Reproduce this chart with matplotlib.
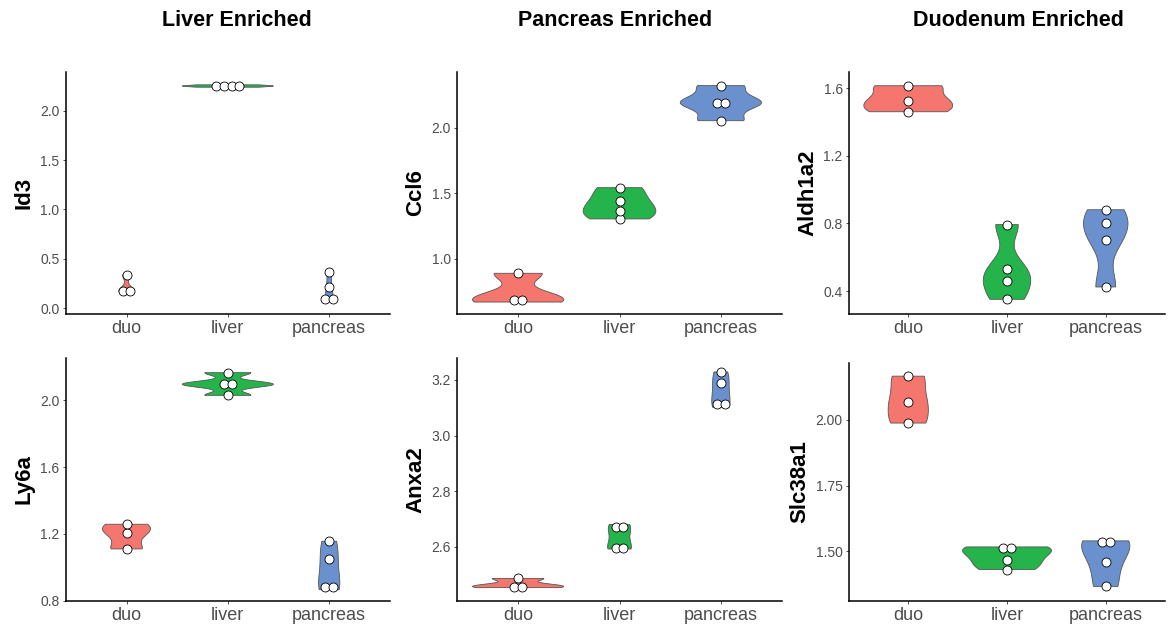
import numpy as np
import matplotlib
matplotlib.use('Agg')
import matplotlib.pyplot as plt

plt.rcParams['font.family'] = ['Liberation Sans', 'DejaVu Sans']

# Gruppen und Farben
groups = ['duo', 'liver', 'pancreas']
colors = ['#F4766E', '#25B34B', '#6A91CD']

# Werte je Gen
id3 = [[0.170, 0.175, 0.337], [2.238, 2.247, 2.253, 2.262], [0.085, 0.097, 0.216, 0.367]]
ccl6 = [[0.672, 0.708, 0.891], [1.305, 1.366, 1.442, 1.543], [2.053, 2.170, 2.210, 2.320]]
aldh1a2 = [[1.461, 1.527, 1.615], [0.351, 0.459, 0.532, 0.793], [0.424, 0.700, 0.801, 0.881]]
ly6a = [[1.110, 1.206, 1.258], [2.030, 2.094, 2.099, 2.166], [0.866, 0.895, 1.050, 1.156]]
anxa2 = [[2.453, 2.461, 2.486], [2.592, 2.598, 2.660, 2.680], [3.102, 3.124, 3.188, 3.229]]
slc38a1 = [[1.987, 2.068, 2.165], [1.431, 1.467, 1.506, 1.517], [1.367, 1.459, 1.533, 1.540]]

titles = ['Liver Enriched', 'Pancreas Enriched', 'Duodenum Enriched']
title_x = [237, 615, 1018]

panels = [
    ('Id3', id3, (-0.058, 2.395), [0.0, 0.5, 1.0, 1.5, 2.0], '%.1f', (65.7, 71.7, 390, 314)),
    ('Ccl6', ccl6, (0.581, 2.426), [1.0, 1.5, 2.0], '%.1f', (457.3, 71.7, 781.7, 314)),
    ('Aldh1a2', aldh1a2, (0.264, 1.698), [0.4, 0.8, 1.2, 1.6], '%.1f', (849, 71.7, 1165, 314)),
    ('Ly6a', ly6a, (0.80, 2.252), [0.8, 1.2, 1.6, 2.0], '%.1f', (65.7, 358.3, 390, 600.7)),
    ('Anxa2', anxa2, (2.406, 3.278), [2.6, 2.8, 3.0, 3.2], '%.1f', (457.3, 358.3, 781.7, 600.7)),
    ('Slc38a1', slc38a1, (1.313, 2.216), [1.50, 1.75, 2.00], '%.2f', (849, 362.7, 1165, 600.7)),
]

W, H = 1169, 627
fig = plt.figure(figsize=(W / 100, H / 100), dpi=100)


def kde(vals, grid):
    # Gausskern mit bw.nrd0 wie in R
    v = np.asarray(vals)
    n = len(v)
    sd = v.std(ddof=1)
    iqr = np.subtract(*np.percentile(v, [75, 25]))
    lo = min(sd, iqr / 1.34) if iqr > 0 else sd
    bw = 0.9 * lo * n ** -0.2
    d = np.exp(-0.5 * ((grid[:, None] - v[None, :]) / bw) ** 2).sum(axis=1)
    return d / (n * bw * np.sqrt(2 * np.pi))


for i, (gene, data, ylim, yticks, fmt, box) in enumerate(panels):
    x0, y0, x1, y1 = box
    ax = fig.add_axes([x0 / W, 1 - y1 / H, (x1 - x0) / W, (y1 - y0) / H])
    ax.set_xlim(0.4, 3.6)
    ax.set_ylim(*ylim)

    # Dichten berechnen, Skalierung nach Fläche
    dens = []
    for vals in data:
        grid = np.linspace(min(vals), max(vals), 512)
        dens.append((grid, kde(vals, grid)))
    dmax = max(d.max() for _, d in dens)

    px_per_y = (y1 - y0) / (ylim[1] - ylim[0])
    px_per_x = (x1 - x0) / 3.2
    dot = 7.6

    for j, (vals, (grid, d)) in enumerate(zip(data, dens)):
        pos = j + 1
        w = 0.45 * d / dmax
        xs = np.concatenate([pos - w, (pos + w)[::-1]])
        ys = np.concatenate([grid, grid[::-1]])
        ax.fill(xs, ys, facecolor=colors[j], edgecolor='#555555', linewidth=0.6, zorder=2)

        # Punkte wie Dotplot: nahe Werte in eine Reihe
        v = np.sort(vals)
        clusters = [[v[0]]]
        for val in v[1:]:
            if (val - clusters[-1][-1]) * px_per_y < 6.5:
                clusters[-1].append(val)
            else:
                clusters.append([val])
        for c in clusters:
            k = len(c)
            offs = (np.arange(k) - (k - 1) / 2) * dot / px_per_x
            ax.scatter(pos + offs, [np.mean(c)] * k, s=42, facecolor='white',
                       edgecolor='black', linewidth=0.6, zorder=3)

    ax.set_xticks([1, 2, 3])
    ax.set_xticklabels(groups, fontsize=13, color='#4D4D4D')
    ax.set_yticks(yticks)
    ax.set_yticklabels([fmt % t for t in yticks], fontsize=10, color='#4D4D4D')
    ax.tick_params(axis='both', length=2.5, width=0.6, color='#333333', pad=2)
    ax.spines['top'].set_visible(False)
    ax.spines['right'].set_visible(False)
    ax.spines['left'].set_linewidth(1.1)
    ax.spines['bottom'].set_linewidth(1.1)
    ax.set_ylabel(gene, fontsize=16, fontweight='bold', labelpad=4)

for t, x in zip(titles, title_x):
    fig.text(x / W, 1 - 20 / H, t, ha='center', va='center', fontsize=15.5, fontweight='bold')

fig.savefig('out.png', dpi=100)
